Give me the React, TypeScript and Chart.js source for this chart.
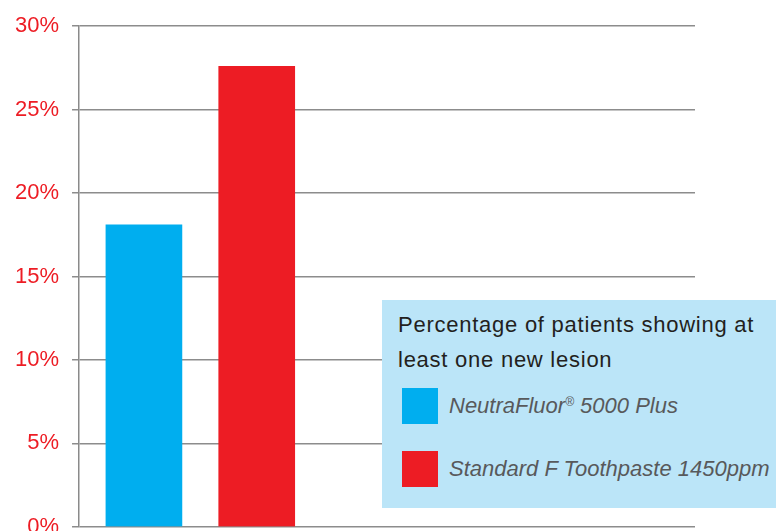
import React, { useEffect, useRef } from "react";
import { Chart, registerables } from "chart.js";

Chart.register(...registerables);

const categories = ["NeutraFluor® 5000 Plus", "Standard F Toothpaste 1450ppm"];
const values = [18.1, 27.6];
const barColors = ["#00aeef", "#ed1c24"];
const yTicks = [0, 5, 10, 15, 20, 25, 30];
const legendTitle = ["Percentage of patients showing at", "least one new lesion"];

const FONT = "'Liberation Sans', Arial, Helvetica, sans-serif";

function renderLabel(label: string) {
  const parts = label.split("®");
  if (parts.length === 1) return label;
  return (
    <>
      {parts[0]}
      <sup style={{ fontSize: "12px", verticalAlign: "0.55em", lineHeight: 0 }}>®</sup>
      {parts[1]}
    </>
  );
}

export default function App() {
  const canvasRef = useRef<HTMLCanvasElement | null>(null);

  useEffect(() => {
    document.body.style.margin = "0";
    document.body.style.overflow = "hidden";
    const ctx = canvasRef.current!;
    const chart = new Chart(ctx, {
      type: "bar",
      data: {
        datasets: [
          {
            label: legendTitle.join(" "),
            data: categories.map((_, i) => ({ x: i + 1, y: values[i] })),
            backgroundColor: barColors,
            barThickness: 76,
          },
        ],
      },
      options: {
        animation: false,
        responsive: false,
        maintainAspectRatio: false,
        layout: { padding: { left: 2, right: 81, top: 25, bottom: 19 } },
        plugins: { legend: { display: false }, tooltip: { enabled: false } },
        scales: {
          x: {
            type: "linear",
            display: false,
            offset: false,
            bounds: "data",
            min: 0.4248,
            max: 5.885,
            grid: { display: false },
          },
          y: {
            min: yTicks[0],
            max: yTicks[yTicks.length - 1],
            afterBuildTicks: (axis: any) => {
              axis.ticks = yTicks.map((v) => ({ value: v }));
            },
            border: { display: true, color: "#8a8a8a", width: 1.5 },
            grid: {
              color: "#8c8c8c",
              lineWidth: 1.5,
              tickLength: 7,
              drawTicks: true,
            },
            ticks: {
              color: "#ed1c24",
              padding: 13,
              font: { family: FONT, size: 22 },
              callback: (v: any) => v + "%",
            },
          },
        },
      },
    });
    return () => chart.destroy();
  }, []);

  return (
    <div style={{ position: "relative", width: 776, height: 553, fontFamily: FONT }}>
      <canvas ref={canvasRef} width={776} height={553} style={{ display: "block" }} />
      <div
        style={{
          position: "absolute",
          left: 382,
          top: 300,
          width: 394,
          height: 208,
          background: "#bbe5f8",
          boxSizing: "border-box",
        }}
      >
        <div
          style={{
            position: "absolute",
            left: 16,
            top: 6.6,
            fontSize: 22,
            lineHeight: "35px",
            letterSpacing: "0.75px",
            color: "#231f20",
            whiteSpace: "nowrap",
          }}
        >
          {legendTitle.map((t, i) => (
            <div key={i}>{t}</div>
          ))}
        </div>
        {categories.map((c, i) => (
          <div
            key={c}
            style={{
              position: "absolute",
              left: 20,
              top: 88.3 + i * 62.4,
              height: 36,
              display: "flex",
              alignItems: "center",
              whiteSpace: "nowrap",
            }}
          >
            <div style={{ width: 36, height: 36, background: barColors[i] }} />
            <span
              style={{
                marginLeft: 11,
                fontSize: 22,
                lineHeight: "36px",
                fontStyle: "italic",
                color: "#58595b",
              }}
            >
              {renderLabel(c)}
            </span>
          </div>
        ))}
      </div>
    </div>
  );
}
